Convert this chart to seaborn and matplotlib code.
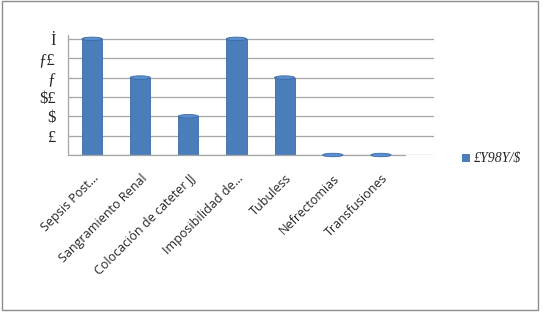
import matplotlib
matplotlib.use("Agg")
import matplotlib.pyplot as plt
import seaborn as sns
import pandas as pd
from matplotlib.patches import Ellipse, Rectangle

categories = ["Sepsis Post...", "Sangramiento Renal", "Colocación de cateter JJ",
              "Imposibilidad de...", "Tubuless", "Nefrectomias", "Transfusiones"]
values = [30, 20, 10, 30, 20, 0, 0]
ytick_values = [0, 5, 10, 15, 20, 25, 30]
ytick_labels = ["", "£", "$", "$£", "ƒ", "ƒ£", "İ"]
legend_label = "£Y98Y/$"

sns.set_style("white")
plt.rcParams['font.family'] = ['Open Sans', 'DejaVu Sans']

df = pd.DataFrame({"cat": categories, "val": values})

n = len(categories)
step = (405 - 68) / n
fig = plt.figure(figsize=(5.43, 3.12), dpi=100)
ax = fig.add_axes([68/543, 1-155/312, step*(n+0.6)/543, (155-35)/312])

bar_color = "#4a7ebb"
sns.barplot(data=df, x="cat", y="val", color=bar_color, width=0.42,
            edgecolor="#3a6aa5", linewidth=0.6, ax=ax, saturation=1)

ax.set_ylim(0, 31)
ax.set_xlim(-0.5, n - 0.5 + 0.6)
ax.set_yticks(ytick_values)
ax.set_yticklabels(ytick_labels, family=['Liberation Serif', 'DejaVu Serif'], fontsize=12)
ax.yaxis.grid(True, color="#a6a6a6", linewidth=0.9)
ax.set_axisbelow(True)
ax.set_xlabel("")
ax.set_ylabel("")

# category boundary ticks
ax.set_xticks([i - 0.5 for i in range(n + 1)], minor=True)
ax.tick_params(axis="x", which="major", length=0, pad=12)
ax.tick_params(axis="x", which="minor", length=4, color="#a6a6a6", direction="out")
ax.tick_params(axis="y", length=4, color="#a6a6a6", direction="out", pad=5)
ax.set_xticklabels(categories, rotation=45, ha="right", rotation_mode="anchor", fontsize=9)

for s in ["top", "right"]:
    ax.spines[s].set_visible(False)
for s in ["left", "bottom"]:
    ax.spines[s].set_color("#a6a6a6")
    ax.spines[s].set_linewidth(0.9)
ax.spines["bottom"].set_bounds(-0.5, n - 0.5)

# cylinder caps at bar tops
for p in ax.patches:
    x0 = p.get_x(); w = p.get_width(); h = p.get_height()
    ax.add_patch(Ellipse((x0 + w/2, h), w, 0.9, facecolor="#5b8fd0",
                         edgecolor="#3a6aa5", linewidth=0.6, zorder=3, clip_on=False))

# legend
fig.patches.append(Rectangle((462/543, 1-162/312), 8/543, 8/312, transform=fig.transFigure,
                             facecolor=bar_color, edgecolor="none"))
fig.text(474/543, 1-158/312, legend_label, fontsize=10, va="center", ha="left",
         family=['Liberation Serif', 'DejaVu Serif'], style="italic")

# chart border
fig.patches.append(Rectangle((2/543, 2/312), 536/543, 309/312, transform=fig.transFigure,
                             facecolor="none", edgecolor="#8c8c8c", linewidth=1))

fig.savefig("out.png", dpi=100)
